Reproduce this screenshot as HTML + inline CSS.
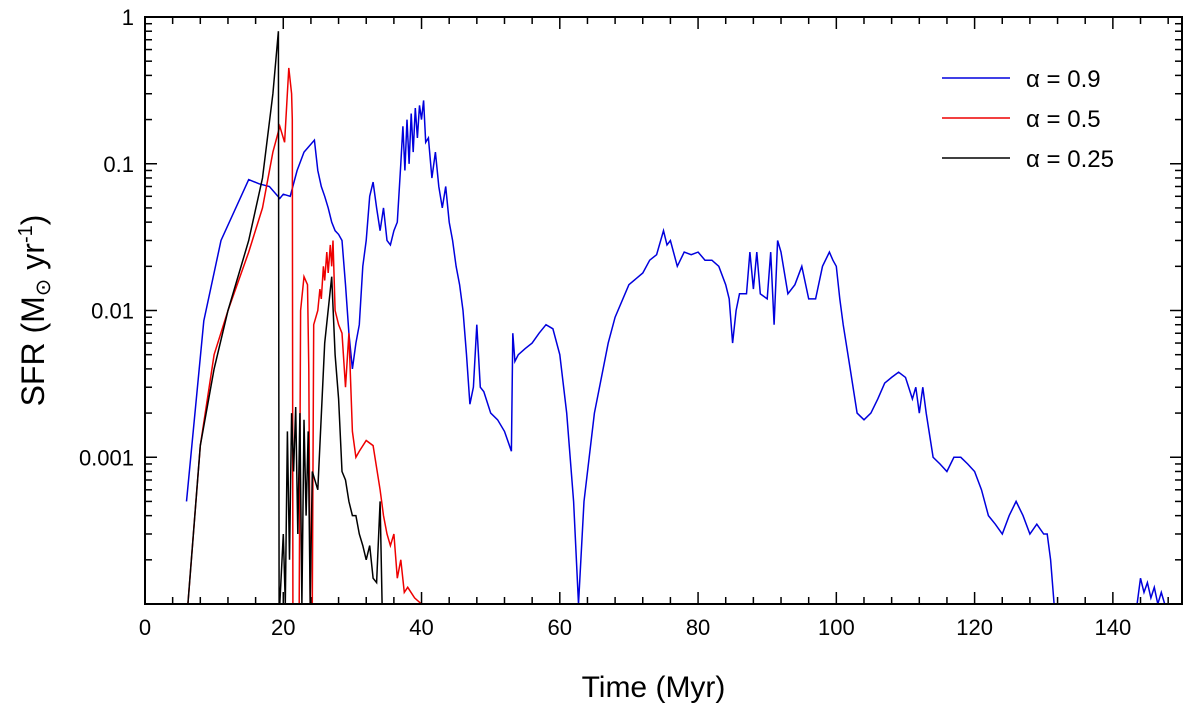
<!DOCTYPE html>
<html><head><meta charset="utf-8"><style>
html,body{margin:0;padding:0;background:#fff;}
svg{display:block;font-family:"Liberation Sans",Arial,sans-serif;}
</style></head><body>
<svg id="chart" width="1200" height="709" viewBox="0 0 1200 709" xmlns="http://www.w3.org/2000/svg">
<g id="plot"></g>
<g id="axes"></g>
<g id="legend"></g>
</svg>
<script>
const xTicks=[0,20,40,60,80,100,120,140];
const yTicks=[1,0.1,0.01,0.001];
const yTickLabels=["1","0.1","0.01","0.001"];
const seriesNames=["α = 0.9","α = 0.5","α = 0.25"];
const seriesColors=["#0000dd","#ee0000","#000000"];
const blueT=[6,8.5,11,15,16.5,18,19.5,20,21,22,23,24.5,25,25.5,26,26.5,27,27.5,28,28.5,29,29.5,30,30.5,31,31.5,32,32.5,33,33.5,34,34.5,35,35.5,36,36.5,37,37.3,37.6,37.9,38.2,38.5,38.8,39.1,39.4,39.7,40,40.3,40.6,41,41.5,42,42.5,43,43.5,44,44.5,45,45.5,46,46.5,47,47.5,48,48.5,49,50,51,52,53,53.2,53.5,54,55,56,57,58,59,60,61,62,62.7,63.5,65,67,68,70,72,73,74,75,75.5,76,77,78,79,80,81,82,83,84,84.5,85,85.5,86,87,87.5,88,88.5,89,90,90.5,91,91.5,92,93,94,95,96,97,98,99,99.5,100,100.5,101,102,103,104,105,106,107,108,109,110,111,111.5,112,112.5,113,114,115,116,117,118,119,120,121,122,123,124,125,126,127,128,129,130,130.5,131,131.5,143,143.5,144,144.5,145,145.5,146,146.5,147,147.5];
const blueV=[0.0005,0.0085,0.03,0.078,0.073,0.07,0.058,0.062,0.06,0.09,0.12,0.145,0.09,0.07,0.06,0.05,0.04,0.035,0.033,0.03,0.015,0.007,0.004,0.006,0.008,0.02,0.03,0.06,0.075,0.05,0.035,0.05,0.03,0.028,0.035,0.04,0.1,0.18,0.09,0.2,0.1,0.22,0.12,0.24,0.15,0.25,0.2,0.27,0.14,0.15,0.08,0.12,0.07,0.05,0.07,0.04,0.03,0.02,0.015,0.01,0.005,0.0023,0.003,0.008,0.003,0.0028,0.002,0.0018,0.0015,0.0011,0.007,0.0045,0.005,0.0055,0.006,0.007,0.008,0.0075,0.005,0.002,0.0005,0.0001,0.0005,0.002,0.006,0.009,0.015,0.018,0.022,0.024,0.035,0.028,0.03,0.02,0.025,0.024,0.025,0.022,0.022,0.02,0.015,0.012,0.006,0.01,0.013,0.013,0.025,0.014,0.025,0.013,0.012,0.025,0.008,0.03,0.025,0.013,0.015,0.02,0.012,0.012,0.02,0.025,0.022,0.02,0.012,0.008,0.004,0.002,0.0018,0.002,0.0025,0.0032,0.0035,0.0038,0.0035,0.0025,0.003,0.002,0.003,0.002,0.001,0.0009,0.0008,0.001,0.001,0.0009,0.0008,0.0006,0.0004,0.00035,0.0003,0.0004,0.0005,0.0004,0.0003,0.00035,0.0003,0.0003,0.0002,0.0001,0.0001,0.0001,0.00015,0.00012,0.00014,0.00011,0.00013,0.0001,0.00012,0.0001,0.0001];
const redT=[6.2,8,10,12,15,17,18.5,19.5,20.2,20.8,21.2,21.3,21.4,22.3,22.5,23,23.5,23.7,23.9,24.2,24.4,25,25.3,25.5,25.8,26,26.3,26.5,26.8,27,27.2,27.5,28,28.5,29,29.5,30,30.5,31,32,33,34,34.5,35,35.5,36,36.5,37,37.5,38,39,40];
const redV=[0.0001,0.0012,0.005,0.01,0.025,0.05,0.12,0.18,0.14,0.45,0.3,0.2,0.0001,0.0001,0.01,0.017,0.015,0.004,0.0001,0.0001,0.008,0.01,0.014,0.012,0.02,0.016,0.025,0.018,0.028,0.02,0.03,0.01,0.008,0.007,0.003,0.007,0.0015,0.001,0.0011,0.0013,0.0012,0.0006,0.0004,0.0003,0.00025,0.0003,0.00015,0.0002,0.00012,0.00013,0.00011,0.0001];
const blackT=[6.2,8,10,12,15,17,18.5,19.3,19.4,19.5,20,20.3,20.6,20.9,21.2,21.5,21.8,22.1,22.4,22.7,23,23.3,23.6,23.9,24.2,25,26,27,27.5,28,28.5,29,29.5,30,30.5,31,31.5,32,32.5,33,33.5,34,34.3];
const blackV=[0.0001,0.0012,0.004,0.01,0.03,0.08,0.3,0.8,0.0001,0.0001,0.0003,0.0001,0.0015,0.0002,0.002,0.0008,0.0022,0.0003,0.002,0.0001,0.0018,0.0004,0.0015,0.0001,0.0008,0.0006,0.006,0.017,0.005,0.0025,0.0008,0.0007,0.0005,0.0004,0.0004,0.0003,0.00025,0.0002,0.00025,0.00015,0.00014,0.0005,0.0001];

const L=145,R=1182,T=17,B=604;
const NS="http://www.w3.org/2000/svg";
function xs(t){return L+(t-0)*(R-L)/150;}
function ys(v){return T+(0-Math.log10(v))*(B-T)/4;}
function mk(tag,attrs,parent){const e=document.createElementNS(NS,tag);for(const k in attrs)e.setAttribute(k,attrs[k]);parent.appendChild(e);return e;}
const plot=document.getElementById('plot'),axes=document.getElementById('axes'),legend=document.getElementById('legend');
mk('clipPath',{id:'clip'},plot).appendChild((()=>{const r=document.createElementNS(NS,'rect');r.setAttribute('x',L);r.setAttribute('y',T);r.setAttribute('width',R-L);r.setAttribute('height',B-T);return r;})());
const data=[[blueT,blueV],[redT,redV],[blackT,blackV]];
const lineNames=['series-alpha-0-9','series-alpha-0-5','series-alpha-0-25'];
for(let s=0;s<3;s++){
  const [tt,vv]=data[s];
  const d=tt.map((t,i)=>(i?'L':'M')+xs(t).toFixed(1)+' '+ys(vv[i]).toFixed(1)).join(' ');
  const p=mk('path',{d:d,fill:'none',stroke:seriesColors[s],'stroke-width':1.5,'clip-path':'url(#clip)'},plot);
  
  
}
const frame=mk('rect',{x:L,y:T,width:R-L,height:B-T,fill:'none',stroke:'#000','stroke-width':2},axes);


for(let t=0;t<=150;t+=4){
  if(t%20===0)continue;
  mk('line',{x1:xs(t),x2:xs(t),y1:B,y2:B-7,stroke:'#000','stroke-width':1.5},axes);
  mk('line',{x1:xs(t),x2:xs(t),y1:T,y2:T+7,stroke:'#000','stroke-width':1.5},axes);
}
xTicks.forEach((t,i)=>{
  mk('line',{x1:xs(t),x2:xs(t),y1:B,y2:B-12,stroke:'#000','stroke-width':1.5},axes);
  mk('line',{x1:xs(t),x2:xs(t),y1:T,y2:T+12,stroke:'#000','stroke-width':1.5},axes);
  const tx=mk('text',{x:xs(t),y:B+31,'text-anchor':'middle','font-size':22},axes);
  tx.textContent=String(t);
  
  
});
yTicks.forEach((v,i)=>{
  mk('line',{x1:L,x2:L+12,y1:ys(v),y2:ys(v),stroke:'#000','stroke-width':1.5},axes);
  mk('line',{x1:R,x2:R-12,y1:ys(v),y2:ys(v),stroke:'#000','stroke-width':1.5},axes);
  for(let m=2;m<=9;m++){const y=ys(v*m/10);mk('line',{x1:L,x2:L+7,y1:y,y2:y,stroke:'#000','stroke-width':1.5},axes);mk('line',{x1:R,x2:R-7,y1:y,y2:y,stroke:'#000','stroke-width':1.5},axes);}
  const tx=mk('text',{x:L-11,y:ys(v)+8,'text-anchor':'end','font-size':22},axes);
  tx.textContent=yTickLabels[i];
  
  
});
const xt=mk('text',{x:(L+R)/2-10,y:697,'text-anchor':'middle','font-size':30},axes);
xt.textContent='Time (Myr)';


const yt=mk('text',{x:0,y:0,'text-anchor':'middle','font-size':32,transform:'translate(44,'+((T+B)/2)+') rotate(-90)'},axes);
yt.innerHTML='SFR (M<tspan font-size="21" dy="6">⊙</tspan><tspan dy="-6"> yr</tspan><tspan font-size="20" dy="-12">-1</tspan><tspan dy="12">)</tspan>';


seriesNames.forEach((n,i)=>{
  const y=78+i*40;
  const g=mk('g',{},legend);
  
  
  mk('line',{x1:942,x2:1010,y1:y,y2:y,stroke:seriesColors[i],'stroke-width':1.5},g);
  const tx=mk('text',{x:1026,y:y+9,'font-size':24},g);
  tx.textContent=n;
});
</script>
</body></html>
